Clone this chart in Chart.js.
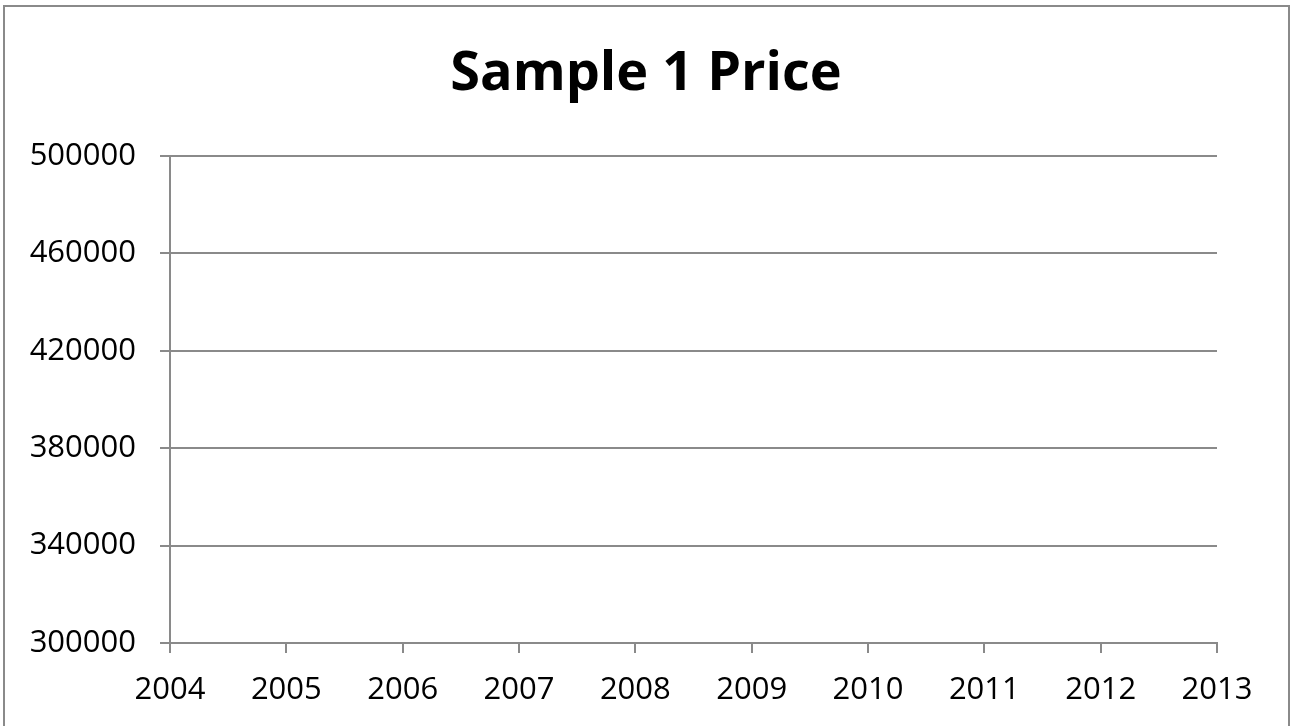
<!DOCTYPE html>
<html>
<head>
<meta charset="utf-8">
<script src="https://cdn.jsdelivr.net/npm/chart.js@4"></script>
<style>
  body { margin: 0; background: #fff; overflow: hidden; }
  #frame {
    position: absolute; left: 3px; top: 5px;
    width: 1283px; height: 760px;
    border: 2px solid #8a8a8a;
  }
  #wrap { position: absolute; left: 0; top: 0; width: 1292px; height: 726px; }
</style>
</head>
<body>
<div id="frame"></div>
<div id="wrap"><canvas id="myChart"></canvas></div>
<script>
// years on the x axis
const years = [2004, 2005, 2006, 2007, 2008, 2009, 2010, 2011, 2012, 2013];
// no prices are plotted in the original picture
const priceValues = [];
// y tick labels
const priceTicks = [300000, 340000, 380000, 420000, 460000, 500000];

const gridGrey = '#8a8a8a';
const ctx = document.getElementById('myChart');

new Chart(ctx, {
  type: 'line',
  data: {
    datasets: [{
      label: 'Price',
      data: priceValues.map((v, i) => ({ x: years[i], y: v })),
      borderColor: '#4a7ebb',
      borderWidth: 3,
      pointRadius: 0
    }]
  },
  options: {
    responsive: true,
    maintainAspectRatio: false,
    animation: false,
    layout: { padding: 0 },
    plugins: {
      legend: { display: false },
      tooltip: { enabled: false },
      title: {
        display: true,
        text: 'Sample 1 Price',
        color: '#000',
        font: { family: 'Open Sans', size: 54, weight: 'bold' },
        padding: { top: 42, bottom: 49 }
      }
    },
    scales: {
      x: {
        type: 'linear',
        min: years[0],
        max: years[years.length - 1],
        afterFit: (axis) => { axis.height = 83; },
        afterBuildTicks: (axis) => { axis.ticks = years.map(v => ({ value: v })); },
        ticks: {
          color: '#000',
          font: { family: 'Open Sans', size: 31 },
          padding: 19,
          maxRotation: 0,
          autoSkip: false,
          callback: (v) => String(v)
        },
        grid: { drawOnChartArea: false, drawTicks: true, tickLength: 10, color: gridGrey, lineWidth: 2 },
        border: { display: true, color: gridGrey, width: 2 }
      },
      y: {
        min: priceTicks[0],
        max: priceTicks[priceTicks.length - 1],
        afterFit: (axis) => { axis.width = 170; },
        afterBuildTicks: (axis) => { axis.ticks = priceTicks.map(v => ({ value: v })); },
        ticks: {
          color: '#000',
          font: { family: 'Open Sans', size: 31 },
          padding: 24,
          callback: (v) => String(v)
        },
        grid: { tickLength: 10, color: gridGrey, lineWidth: 2 },
        border: { display: true, color: gridGrey, width: 2 }
      },
      // empty right-hand axis, only keeps space at the right of the plot
      spacer: {
        type: 'linear',
        position: 'right',
        afterFit: (axis) => { axis.width = 75; },
        ticks: { display: false },
        grid: { display: false },
        border: { display: false }
      }
    }
  }
});
</script>
</body>
</html>
